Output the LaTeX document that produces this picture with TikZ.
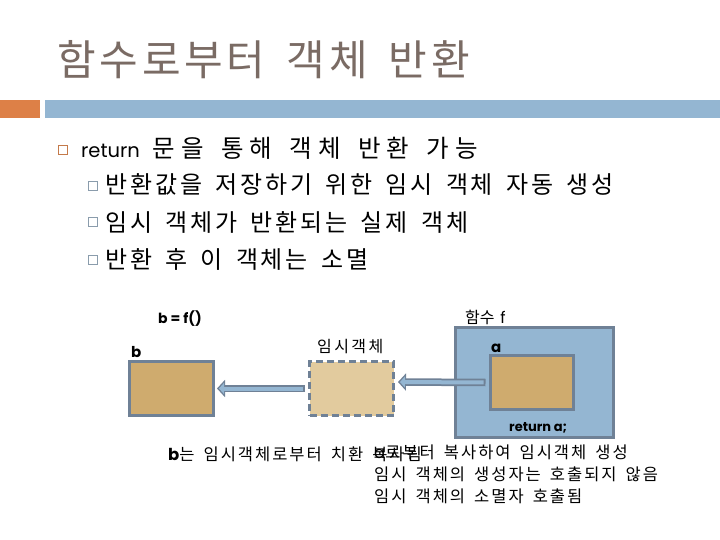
\documentclass[tikz,border=0pt]{standalone}
\usepackage{fontspec}
\setmainfont{Noto Sans CJK KR}[WordSpace=1.6]
\newfontfamily\pop{Poppins}
\usetikzlibrary{arrows.meta}
\definecolor{titlec}{HTML}{7A6B64}
\definecolor{barorange}{HTML}{DD8047}
\definecolor{barblue}{HTML}{94B6D2}
\definecolor{bulorange}{HTML}{C47A4A}
\definecolor{bulgray}{HTML}{8A9CAC}
\definecolor{tan}{HTML}{CFAB6E}
\definecolor{tanlight}{HTML}{E2CB9E}
\definecolor{edge}{HTML}{6F8196}
\tikzset{
  objbox/.style={draw=edge, line width=3pt, fill=tan, inner sep=0pt},
  lbl/.style={inner sep=0pt, anchor=base west},
  fatarrow/.style={line width=7.5pt, draw=edge, -{Triangle[length=8pt,width=17pt]}},
  fatarrowin/.style={line width=4pt, draw=barblue, -{Triangle[length=5pt,width=11pt]}, shorten >=2pt, shorten <=1.8pt},
}
\begin{document}
\begin{tikzpicture}[x=1pt,y=-1pt]
\useasboundingbox (0,0) rectangle (720,540);
\fill[white] (0,0) rectangle (720,540);
% title
\node[lbl, font=\fontsize{42}{42}\selectfont\addfontfeature{LetterSpace=9}, text=titlec] (title) at (57,76) {함수로부터 객체 반환};
\fill[barorange] (0,100) rectangle (40,118);
\fill[barblue] (45,100) rectangle (720,118);
% bullets
\node[draw=bulorange, line width=1.5pt, minimum size=9pt, inner sep=0pt] (sq1) at (63,150) {};
\node[lbl, font=\fontsize{24.5}{25}\selectfont\addfontfeature{LetterSpace=23}] (l1) at (81,158) {{\pop\fontsize{19.5}{20}\selectfont return}\hspace{13pt}문을 통해 객체 반환 가능};
\node[draw=bulgray, line width=0.8pt, minimum size=9pt, inner sep=0pt] (sq2) at (93,186) {};
\node[lbl, font=\fontsize{24}{24}\selectfont\addfontfeature{LetterSpace=12}] (l2) at (105,194) {반환값을 저장하기 위한 임시 객체 자동 생성};
\node[draw=bulgray, line width=0.8pt, minimum size=9pt, inner sep=0pt] (sq3) at (93,222) {};
\node[lbl, font=\fontsize{24}{24}\selectfont\addfontfeature{LetterSpace=12}] (l3) at (105,231) {임시 객체가 반환되는 실제 객체};
\node[draw=bulgray, line width=0.8pt, minimum size=9pt, inner sep=0pt] (sq4) at (93,260) {};
\node[lbl, font=\fontsize{24}{24}\selectfont\addfontfeature{LetterSpace=12}] (l4) at (105,268) {반환 후 이 객체는 소멸};
% diagram
\node[draw=edge, line width=3pt, fill=barblue, minimum width=158pt, minimum height=110pt, inner sep=0pt] (fbox) at (534,382) {};
\node[objbox, minimum width=84pt, minimum height=54pt] (bbox) at (171.5,388.5) {};
\node[draw=edge, line width=3pt, dashed, dash pattern=on 7pt off 4pt, fill=tanlight, minimum width=84pt, minimum height=54pt, inner sep=0pt] (tbox) at (351.5,388.5) {};
\node[objbox, minimum width=83pt, minimum height=54pt] (abox) at (531.5,382.5) {};
\node[lbl, font=\pop\bfseries\fontsize{14}{14}\selectfont] (bf) at (158,323) {b = f()};
\node[lbl, font=\pop\bfseries\fontsize{15}{15}\selectfont] (blbl) at (131,357) {b};
\node[lbl, font=\fontsize{16}{16}\selectfont\addfontfeature{LetterSpace=15}] (tlbl) at (317,352) {임시객체};
\node[lbl, font=\fontsize{16}{16}\selectfont] (flbl) at (465,323) {함수 {\pop f}};
\node[lbl, font=\pop\bfseries\fontsize{15}{15}\selectfont] (albl) at (491,352) {a};
\node[lbl, font=\pop\bfseries\fontsize{13}{13}\selectfont] (ret) at (509,431) {return a;};
\draw[fatarrow] (tbox.west) ++(-3,0) coordinate (t1) -- (bbox.east -| 217,0) coordinate (b1);
\draw[fatarrowin] (t1) -- (b1);
\coordinate (t2) at (398,382);
\draw[fatarrow] ([xshift=-3pt]abox.west) -- (t2);
\draw[fatarrowin] ([xshift=-3pt]abox.west) -- (t2);
% bottom texts
\node[lbl, font=\fontsize{16.5}{16.5}\selectfont\addfontfeature{LetterSpace=12}] (btxt) at (168,460) {{\pop\bfseries b}는 임시객체로부터 치환 복사됨};
\node[lbl, font=\fontsize{16.5}{16.5}\selectfont\addfontfeature{LetterSpace=12}] (atxt) at (374,458) {{\pop a}로부터 복사하여 임시객체 생성};
\node[lbl, font=\fontsize{16.5}{16.5}\selectfont\addfontfeature{LetterSpace=12}] (atxt2) at (374,480) {임시 객체의 생성자는 호출되지 않음};
\node[lbl, font=\fontsize{16.5}{16.5}\selectfont\addfontfeature{LetterSpace=12}] (atxt3) at (374,502) {임시 객체의 소멸자 호출됨};
\end{tikzpicture}
\end{document}
